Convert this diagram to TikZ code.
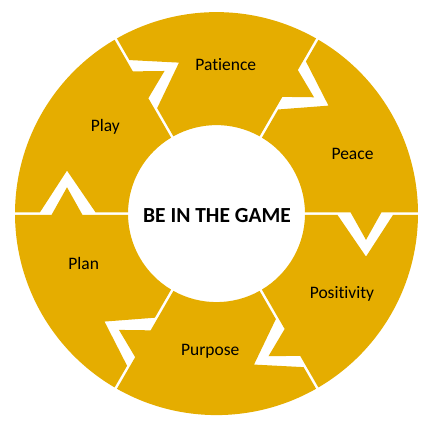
\documentclass[tikz,border=0pt]{standalone}
\usepackage{fontspec}
\setmainfont{Carlito}[Ligatures={NoCommon,NoContextual}]
\definecolor{gold}{RGB}{229,173,0}
\tikzset{
  seg/.style={fill=gold, draw=none},
  lbl/.style={anchor=base, inner sep=0pt, text=black, font=\fontsize{17.5}{20}\selectfont},
  ttl/.style={anchor=base, inner sep=0pt, text=black, font=\bfseries\fontsize{21.5}{24}\selectfont}
}
\begin{document}
\begin{tikzpicture}[x=1pt,y=1pt]
\useasboundingbox (0,0) rectangle (431,424);
\begin{scope}[shift={(216.5pt,210.4pt)}]
\foreach \k in {0,...,5}{
  \fill[seg, rotate=60*\k]
    (0.874:88.5pt) -- (134pt,1.35pt) -- (149.5pt,-26.3pt) -- (165pt,1.35pt)
    -- (0.384:201.5pt) arc[start angle=0.384, end angle=59.616, radius=201.5pt]
    -- (89.42pt,152.18pt) -- (111.99pt,107.97pt) -- (61.67pt,104.12pt)
    -- (59.126:88.5pt) arc[start angle=59.126, end angle=0.874, radius=88.5pt]
    -- cycle;
}
\end{scope}
\node[lbl] (patience) at (225.8,353.3) {Patience};
\node[lbl] (play) at (105.3,292.3) {Play};
\node[lbl] (peace) at (352.5,265) {Peace};
\node[lbl] (positivity) at (342,126) {Positivity};
\node[lbl] (plan) at (83.7,154.7) {Plan};
\node[lbl] (purpose) at (210.2,69) {Purpose};
\node[ttl] (title) at (217,202) {BE IN THE GAME};
\end{tikzpicture}
\end{document}
